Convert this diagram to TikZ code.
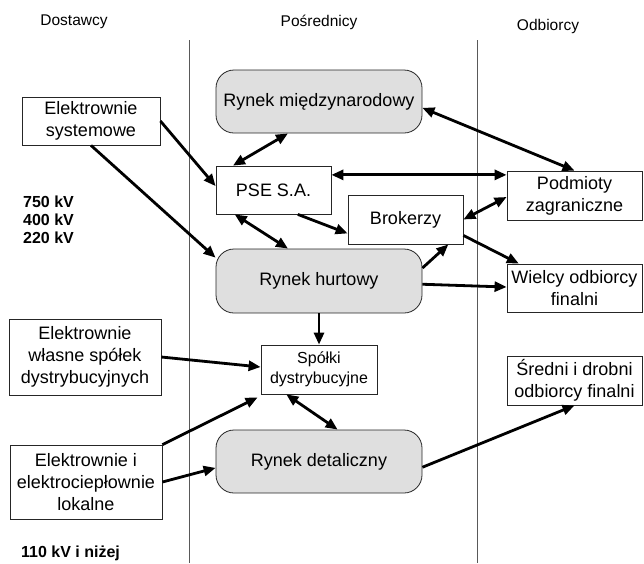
\documentclass[tikz,border=0pt]{standalone}
\usepackage{fontspec}
\setmainfont{Liberation Sans}
\usetikzlibrary{arrows.meta,calc}
\begin{document}
\begin{tikzpicture}[x=1pt,y=-1pt,
  box/.style={draw=black!85, line width=0.8pt, fill=white, inner sep=0pt, align=center, font=\fontsize{18}{22}\selectfont},
  mkt/.style={box, fill=gray!25, rounded corners=18pt},
  small/.style={font=\fontsize{16}{20}\selectfont},
  hdr/.style={font=\fontsize{15.5}{18}\selectfont, inner sep=0pt},
  volt/.style={font=\fontsize{16}{18}\selectfont\bfseries, align=left, anchor=west, inner sep=0pt},
  arr/.style={line width=2.8pt, -{Triangle[length=12pt,width=10pt]}},
  dbl/.style={line width=2.8pt, {Triangle[length=12pt,width=10pt]}-{Triangle[length=12pt,width=10pt]}},
  sep/.style={draw=black!65, line width=0.8pt}]
\useasboundingbox (0,0) rectangle (644,563);

% column separators
\draw[sep] (189,40) -- (189,563);
\draw[sep] (477,40) -- (477,563);

% headers
\node[hdr] (h1) at (74,22) {Dostawcy};
\node[hdr] (h2) at (319,22) {Pośrednicy};
\node[hdr] (h3) at (548,26) {Odbiorcy};

% voltage labels
\node[volt] (v1) at (23,220) {750 kV\\400 kV\\220 kV};
\node[volt] (v2) at (21,553) {110 kV i niżej};

% suppliers
\node[box, minimum width=138pt, minimum height=48pt] (es) at (91,121) {Elektrownie\\systemowe};
\node[box, minimum width=152pt, minimum height=76pt] (ew) at (85,357) {Elektrownie\\własne spółek\\dystrybucyjnych};
\node[box, minimum width=152pt, minimum height=74pt] (ei) at (86,482) {Elektrownie i\\elektrociepłownie\\lokalne};

% intermediaries
\node[mkt, minimum width=206pt, minimum height=63pt] (mi) at (319,101.5) {Rynek międzynarodowy};
\node[box, minimum width=115pt, minimum height=48pt] (pse) at (273.5,190) {PSE S.A.};
\node[box, minimum width=115pt, minimum height=49pt] (bro) at (405.5,219.5) {Brokerzy};
\node[mkt, minimum width=206pt, minimum height=64pt] (rh) at (319,281) {Rynek hurtowy};
\node[box, small, minimum width=116pt, minimum height=49pt] (sd) at (319,369.5) {Spółki\\dystrybucyjne};
\node[mkt, minimum width=206pt, minimum height=63pt] (rd) at (319,461.5) {Rynek detaliczny};

% customers
\node[box, minimum width=135pt, minimum height=49pt] (pz) at (574.5,195.5) {Podmioty\\zagraniczne};
\node[box, minimum width=135pt, minimum height=48pt] (wo) at (574.5,288) {Wielcy odbiorcy\\finalni};
\node[box, minimum width=135pt, minimum height=49pt] (sr) at (574.5,380.5) {Średni i drobni\\odbiorcy finalni};

% connectors
\draw[arr] (es.east) -- ($(pse.north west)!0.42!(pse.south west)$);
\draw[arr] (es.south) -- ($(rh.north west)!0.14!(rh.south west)$);
\draw[dbl] ($(mi.south west)!0.35!(mi.south east)$) -- ($(pse.north west)!0.15!(pse.north east)$);
\draw[dbl] ($(mi.north east)!0.6!(mi.south east)$) -- (pz.north);
\draw[dbl] ($(pse.north east)!0.19!(pse.south east)$) coordinate (p1) -- (p1 -| pz.west);
\draw[dbl] ($(pse.south west)!0.165!(pse.south east)$) -- ($(rh.north west)!0.35!(rh.north east)$);
\draw[arr] ($(pse.south west)!0.71!(pse.south east)$) -- ($(bro.north west)!0.78!(bro.south west)$);
\draw[arr] ($(rh.north east)!0.3!(rh.south east)$) -- ($(bro.south west)!0.87!(bro.south east)$);
\draw[dbl] (bro.east) -- ($(pz.north west)!0.53!(pz.south west)$);
\draw[arr] ($(bro.north east)!0.82!(bro.south east)$) -- ($(wo.north west)!0.09!(wo.north east)$);
\draw[arr] ($(rh.north east)!0.55!(rh.south east)$) -- ($(wo.north west)!0.48!(wo.south west)$);
\draw[arr] (rh.south) -- (sd.north);
\draw[arr] (ew.east) -- ($(sd.north west)!0.45!(sd.south west)$);
\draw[arr] (ei.north east) -- ($(sd.south west)+(-3,3)$);
\draw[arr] (ei.east) -- ($(rd.north west)!0.6!(rd.south west)$);
\draw[dbl] ($(sd.south west)!0.22!(sd.south east)$) -- ($(rd.north west)!0.59!(rd.north east)$);
\draw[arr] ($(rd.north east)!0.59!(rd.south east)$) -- (sr.south);
\end{tikzpicture}
\end{document}
